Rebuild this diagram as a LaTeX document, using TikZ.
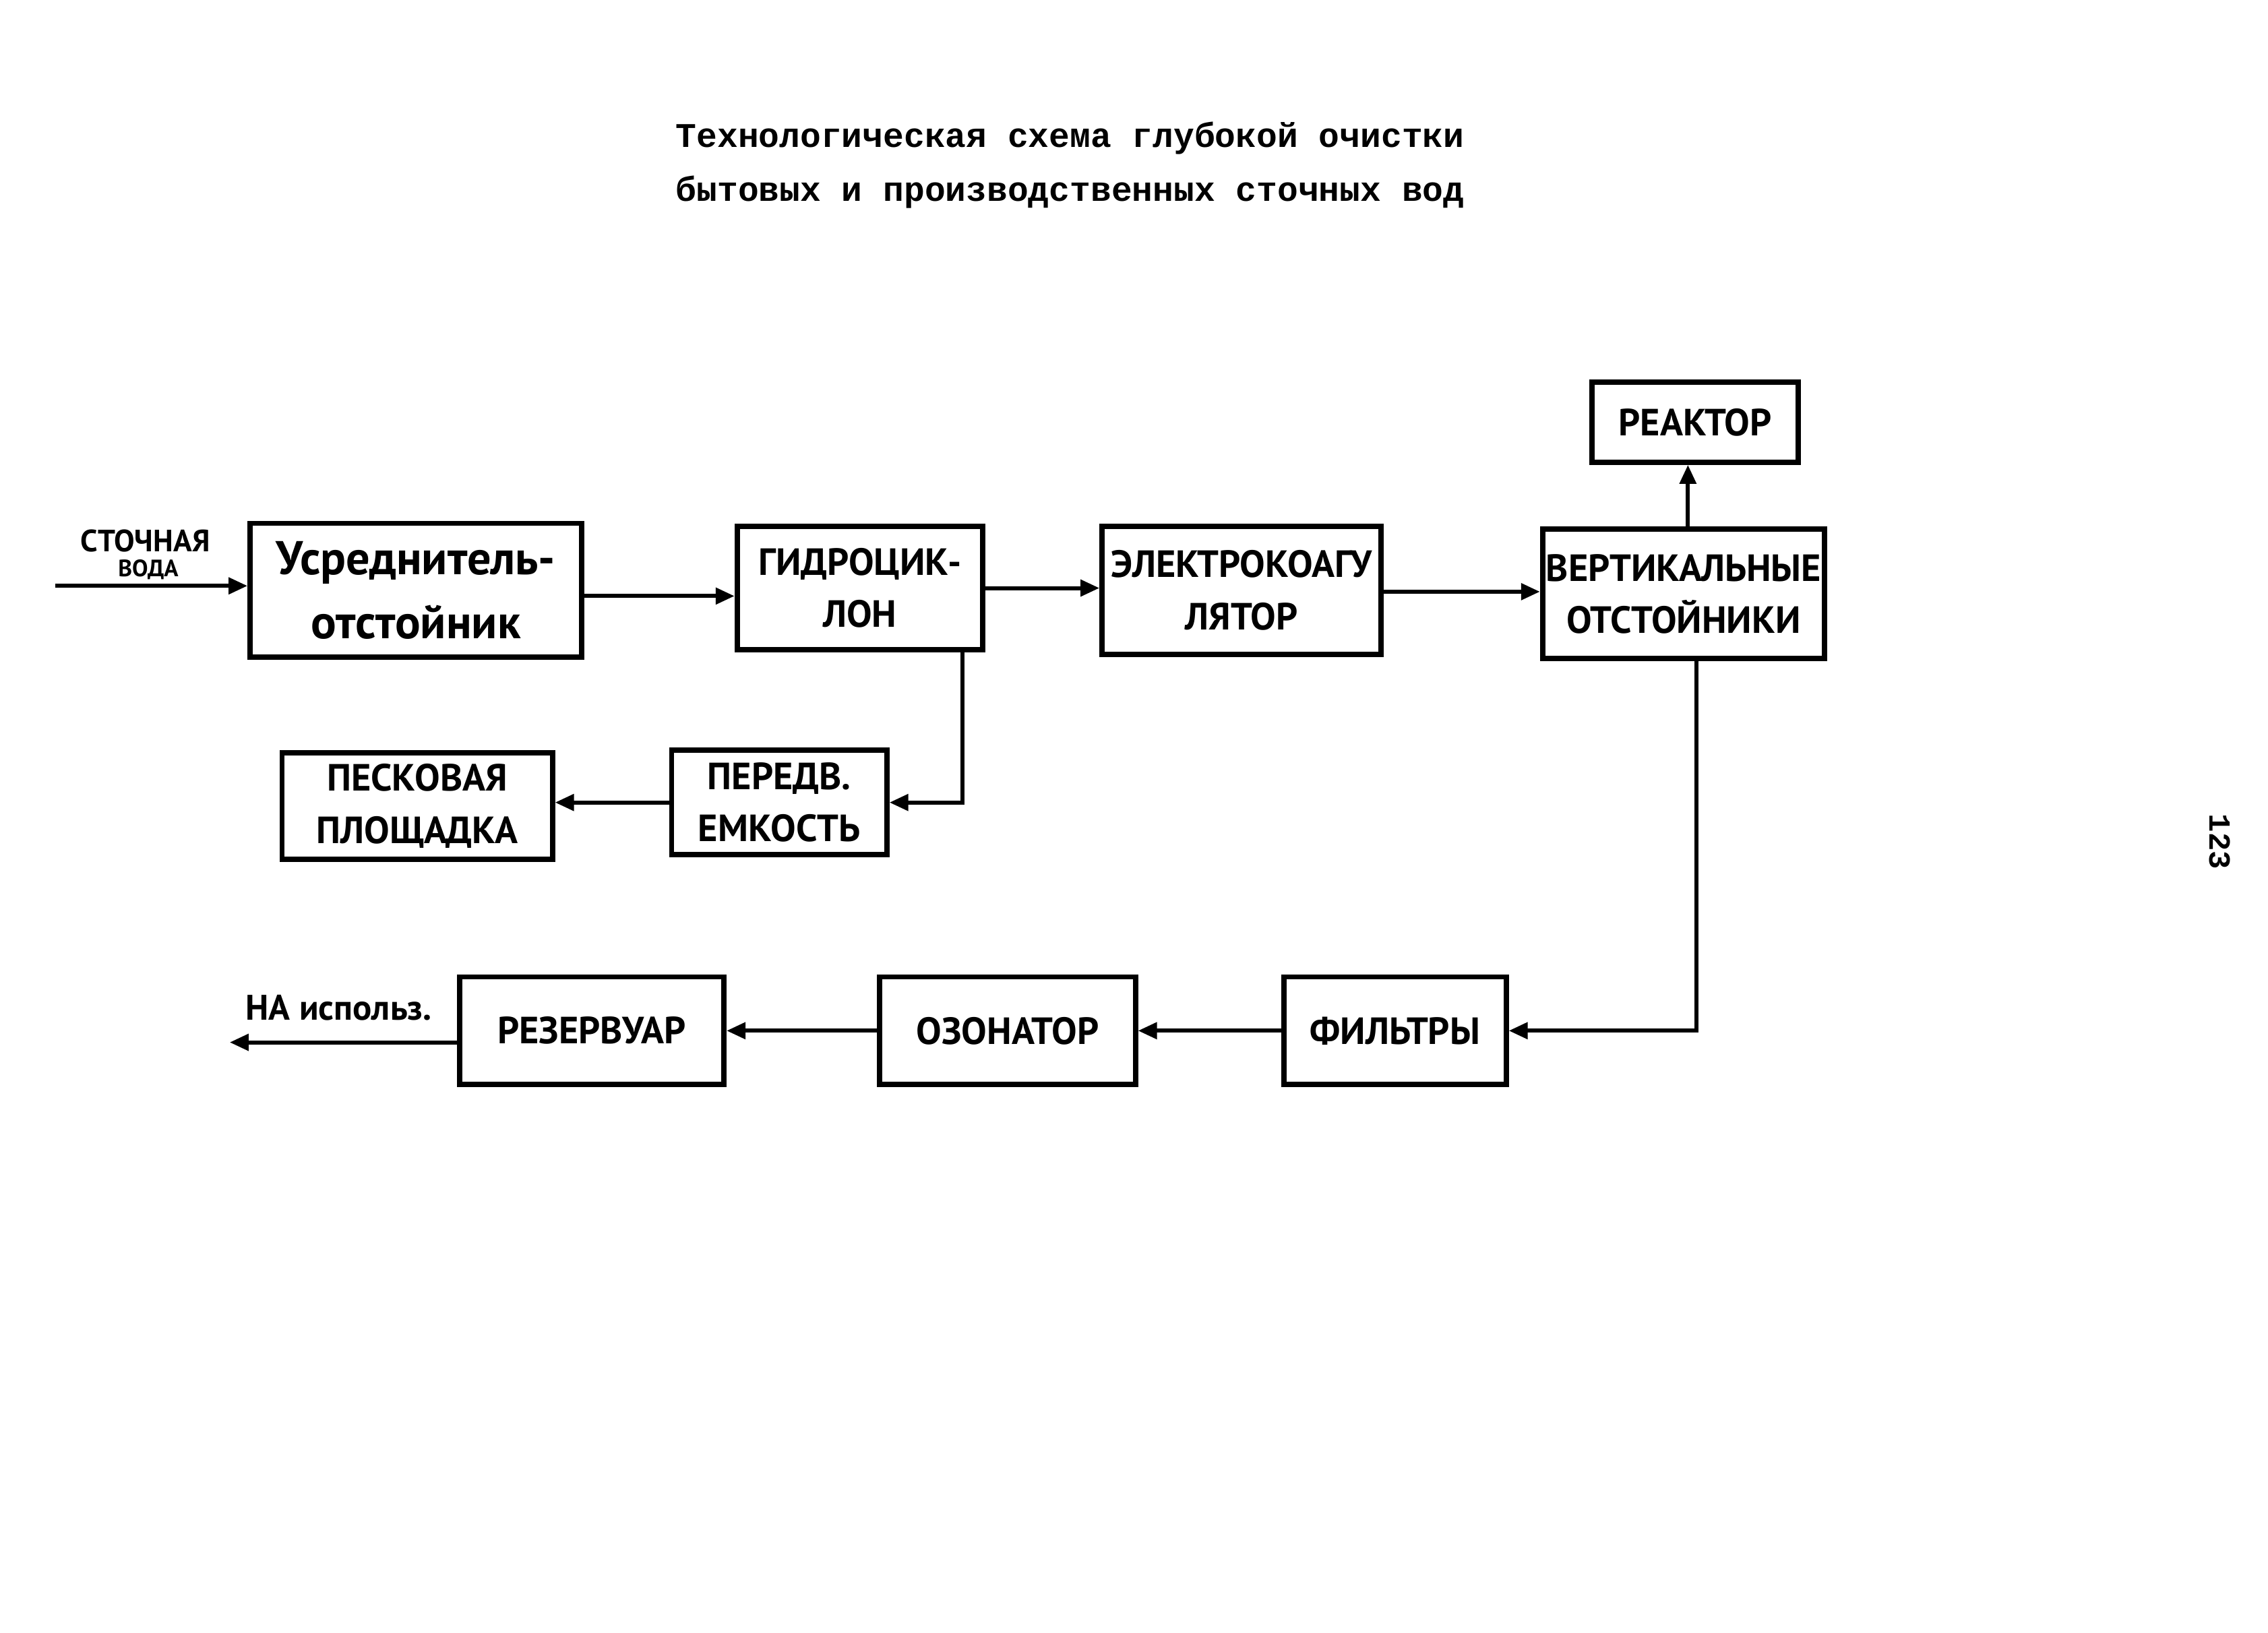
\documentclass[tikz,border=0pt]{standalone}
\usepackage{fontspec}
\usetikzlibrary{arrows.meta,calc}
\newfontfamily\hand{PT Sans}
\newfontfamily\typew{Liberation Mono}
\def\u{0.02157cm}
\tikzset{
  box/.style 2 args={draw, line width=2.2pt, minimum width=#1*\u, minimum height=#2*\u,
    inner sep=0pt, align=center, font=\hand\bfseries\fontsize{16}{22}\selectfont},
  arr/.style={line width=1.7pt, -{Triangle[length=0.28cm,width=0.24cm]}},
  lbl/.style={inner sep=0pt, font=\hand\bfseries\fontsize{15}{18}\selectfont}
}
\begin{document}
\begin{tikzpicture}[x=0.02157cm,y=-0.02157cm]
\useasboundingbox[fill=white] (0,0) rectangle (1560,1123);
% title
\node[inner sep=0pt, font=\typew\bfseries\fontsize{14.6}{17}\selectfont] (t1) at (736,95) {Технологическая схема глубокой очистки};
\node[inner sep=0pt, font=\typew\bfseries\fontsize{14.6}{17}\selectfont] (t2) at (736,132) {бытовых и производственных сточных вод};
% page number
\node[inner sep=0pt, rotate=-90, font=\typew\bfseries\fontsize{13}{15}\selectfont] (pg) at (1527,579) {123};
% boxes
\node[box={228}{92}, font=\hand\bfseries\fontsize{20}{27}\selectfont] (usr) at (286,406) {Усреднитель-\\отстойник};
\node[box={169}{85}] (gid) at (591.5,404.5) {ГИДРОЦИК-\\ЛОН};
\node[box={192}{88}] (el) at (854,406) {ЭЛЕКТРОКОАГУ\\ЛЯТОР};
\node[box={194}{89}] (vert) at (1158,408.5) {ВЕРТИКАЛЬНЫЕ\\ОТСТОЙНИКИ};
\node[box={142}{55}] (reak) at (1166,290.5) {РЕАКТОР};
\node[box={186}{73}] (pesk) at (287,554.5) {ПЕСКОВАЯ\\ПЛОЩАДКА};
\node[box={148}{72}] (per) at (536,552) {ПЕРЕДВ.\\ЕМКОСТЬ};
\node[box={182}{74}] (rez) at (407,709) {РЕЗЕРВУАР};
\node[box={176}{74}] (ozon) at (693,709) {ОЗОНАТОР};
\node[box={153}{74}] (filt) at (959.5,709) {ФИЛЬТРЫ};
% free ends
\coordinate (in) at (38,403);
\coordinate (out) at (158,717);
% labels
\node[lbl, font=\hand\bfseries\fontsize{13}{15}\selectfont] (l1) at (100,372) {СТОЧНАЯ};
\node[lbl, font=\hand\bfseries\fontsize{10}{12}\selectfont] (l2) at (102,392) {ВОДА};
\node[lbl] (l3) at (233,693) {НА использ.};
% connectors
\draw[arr] (in) -- (in -| usr.west);
\draw[arr] ([yshift=-4*\u]usr.east) -- ([yshift=-4*\u]usr.east -| gid.west);
\draw[arr] (gid.east) -- (gid.east -| el.west);
\draw[arr] ([yshift=-1*\u]el.east) -- ([yshift=-1*\u]el.east -| vert.west);
\draw[arr] ([xshift=3*\u]vert.north) -- ([xshift=3*\u]vert.north |- reak.south);
\draw[arr] ([xshift=-16*\u]gid.south east) |- (per.east);
\draw[arr] (per.west) -- (per.west -| pesk.east);
\draw[arr] ([xshift=9*\u]vert.south) |- (filt.east);
\draw[arr] (filt.west) -- (ozon.east);
\draw[arr] (ozon.west) -- (rez.east);
\draw[arr] ([yshift=-8*\u]rez.west) -- (out);
\end{tikzpicture}
\end{document}
